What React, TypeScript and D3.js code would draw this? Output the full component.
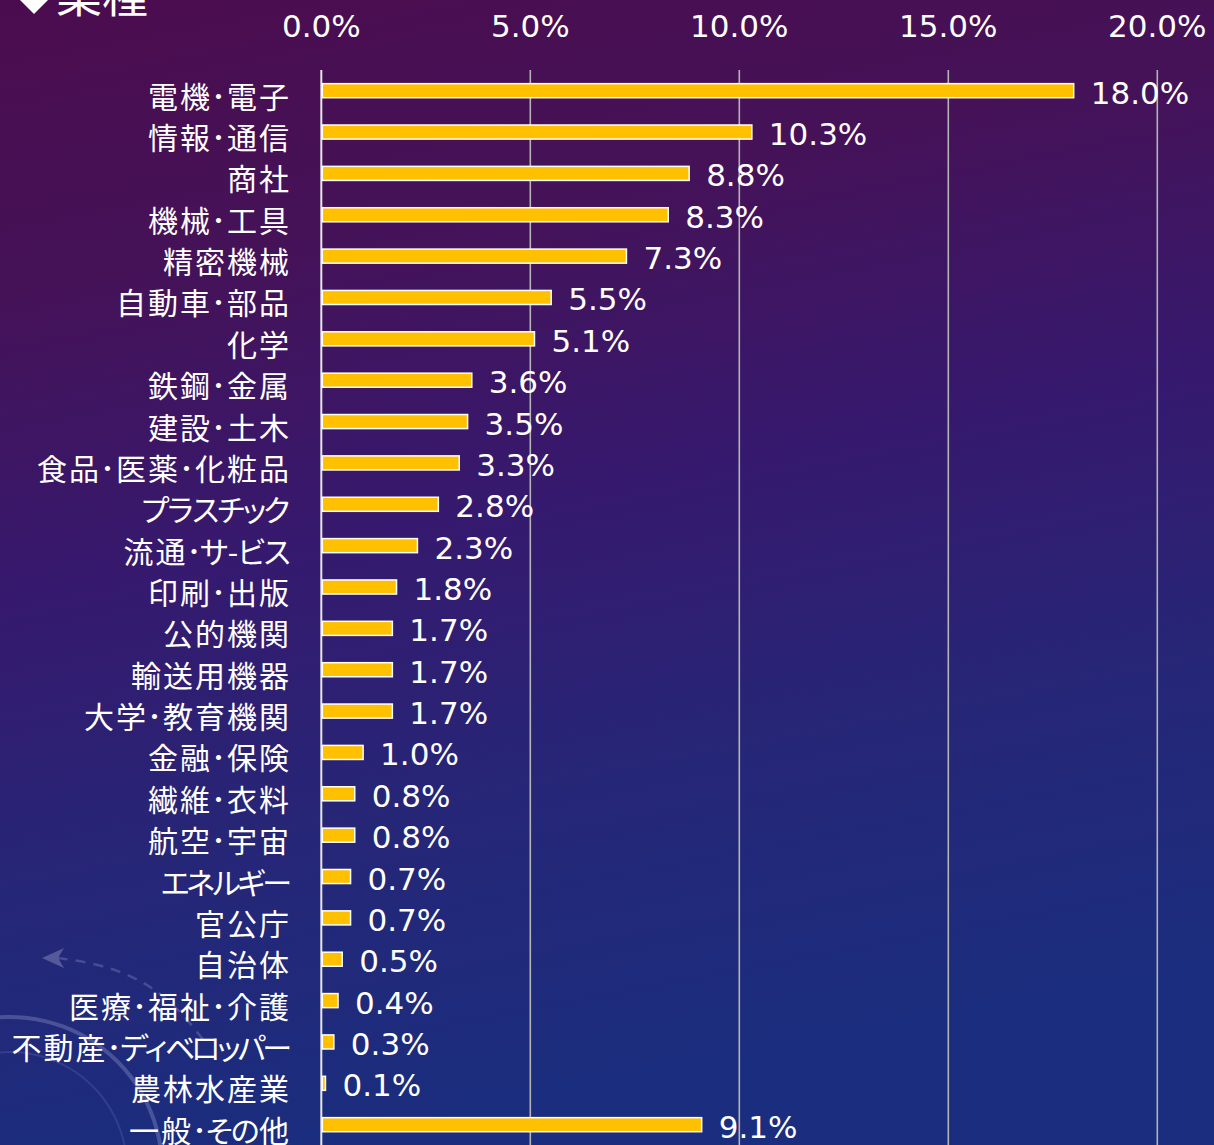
import React from 'react'
import * as d3 from 'd3'

const categories = [
  '電機･電子', '情報･通信', '商社', '機械･工具', '精密機械', '自動車･部品', '化学',
  '鉄鋼･金属', '建設･土木', '食品･医薬･化粧品', 'プラスチック', '流通･サ-ビス',
  '印刷･出版', '公的機関', '輸送用機器', '大学･教育機関', '金融･保険', '繊維･衣料',
  '航空･宇宙', 'エネルギー', '官公庁', '自治体', '医療･福祉･介護',
  '不動産･ディベロッパー', '農林水産業', '一般･その他',
]
const shares = [
  18.0, 10.3, 8.8, 8.3, 7.3, 5.5, 5.1, 3.6, 3.5, 3.3, 2.8, 2.3, 1.8, 1.7, 1.7, 1.7,
  1.0, 0.8, 0.8, 0.7, 0.7, 0.5, 0.4, 0.3, 0.1, 9.1,
]
const tickValues = [0, 5, 10, 15, 20]
const title = '業種'

const W = 1214
const H = 1145
const JP = '"Noto Sans CJK JP", "Noto Sans", sans-serif'
const NUM = '"DejaVu Sans", Verdana, sans-serif'

// the original font sets kana narrower than kanji, so lay glyphs out by class
const smallKana = 'ァィゥェォッャュョ'
const isKana = (ch: string) => /[\u3040-\u30ff]/.test(ch)
const charWidth = (ch: string) => {
  if (ch === '･') return 15
  if (ch === '-') return 12
  if (smallKana.includes(ch)) return 20.5
  if (isKana(ch)) return 25.5
  return 32
}
const glyphXs = (label: string, right: number) => {
  const chars = Array.from(label)
  const total = d3.sum(chars, charWidth)
  let cur = right - total
  return chars.map(ch => {
    const c = cur + charWidth(ch) / 2
    cur += charWidth(ch)
    return c.toFixed(1)
  }).join(' ')
}

const App = () => {
  const x = d3.scaleLinear().domain([0, 20]).range([321.3, 1157.3])
  const y = d3.scaleBand<string>()
    .domain(categories)
    .range([70, 70 + categories.length * 41.36])
    .paddingInner(0.66)
    .paddingOuter(0.33)
  const bw = y.bandwidth()
  const fmt = d3.format('.1f')

  // faint decoration in the lower left corner
  const outerArc = d3.arc()({ innerRadius: 150, outerRadius: 154, startAngle: -0.4, endAngle: 1.6 } as any)
  const innerArc = d3.arc()({ innerRadius: 116, outerRadius: 118, startAngle: -0.4, endAngle: 1.6 } as any)
  const dashPath = d3.line().curve(d3.curveBasis)([[58, 958], [100, 964], [140, 979], [175, 1004], [205, 1042]])

  return (
    <svg width={W} height={H} style={{ position: 'absolute', left: 0, top: 0, display: 'block' }}>
      <defs>
        <linearGradient id="bg" x1="0" y1="0" x2="0.2" y2="1">
          <stop offset="0" stopColor="#4b0c4e" />
          <stop offset="0.25" stopColor="#451258" />
          <stop offset="0.5" stopColor="#36196e" />
          <stop offset="0.75" stopColor="#262677" />
          <stop offset="1" stopColor="#1b2d7e" />
        </linearGradient>
      </defs>
      <rect width={W} height={H} fill="url(#bg)" />

      <g fill="#c8cdf0" stroke="none">
        <path d={outerArc!} transform="translate(10, 1169)" opacity={0.25} />
        <path d={innerArc!} transform="translate(10, 1169)" opacity={0.12} />
        <path d={dashPath!} fill="none" stroke="#c8cdf0" strokeWidth={2.5} strokeDasharray="10 8" opacity={0.22} />
        <path d="M42,958 L64,948 L58,958 L64,968 Z" opacity={0.3} />
      </g>

      {/* title, cut at the top edge */}
      <path d="M34,-14 L48,0 L34,14 L20,0 Z" fill="#ffffff" />
      <text x={56} y={12} fill="#ffffff" fontFamily={JP} fontSize={46}>{title}</text>

      {tickValues.map(t => (
        <g key={t}>
          <line
            x1={x(t)} x2={x(t)} y1={70} y2={H}
            stroke={t === 0 ? '#e6e6e6' : '#b4b4b4'}
            strokeWidth={t === 0 ? 2 : 1.6}
          />
          <text
            x={x(t)} y={26} textAnchor="middle" dominantBaseline="central"
            fill="#ffffff" fontFamily={NUM} fontSize={31}
          >{fmt(t)}%</text>
        </g>
      ))}

      {categories.map((c, i) => {
        const cy = y(c)! + bw / 2
        return (
          <g key={c}>
            <rect
              x={x(0) + 1} y={y(c)!} width={Math.max(0, x(shares[i]) - x(0) - 1)} height={bw}
              fill="#ffc000" stroke="#ffffff" strokeWidth={1.5}
            />
            <text
              x={glyphXs(c, 290)} y={cy + 4} textAnchor="middle" dominantBaseline="central"
              fill="#ffffff" fontFamily={JP} fontSize={30}
            >{c}</text>
            <text
              x={x(shares[i]) + 17} y={cy + 2} dominantBaseline="central"
              fill="#ffffff" fontFamily={NUM} fontSize={31}
            >{fmt(shares[i])}%</text>
          </g>
        )
      })}
    </svg>
  )
}

export default App
